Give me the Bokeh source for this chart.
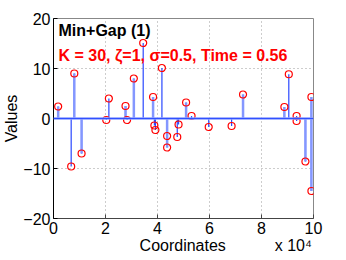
import math
from bokeh.plotting import figure
from bokeh.models import Label, Span, FixedTicker, Range1d
from bokeh.embed import file_html
from bokeh.resources import INLINE

# estimated signal (K = 30 spikes)
est_x = [1800, 6800, 8000, 10800, 20300, 21300, 27700, 28300, 30900, 34500,
         38300, 38800, 39200, 41700, 43700, 43700, 47600, 48100, 51000, 53100,
         59700, 68500, 72900, 88800, 90500, 93500, 93500, 96900, 99200, 99200]
est_y = [2.4, -9.6, 9.0, -7.0, -0.3, 4.0, 2.5, -0.3, 8.0, 15.1,
         4.3, -1.4, -2.3, 10.1, -3.5, -5.8, -3.7, -1.2, 3.2, 0.5,
         -1.7, -1.5, 4.8, 2.3, 8.85, 0.5, -0.5, -8.6, 4.3, -14.5]

# true signal (light stems)
true_x = [1800, 8000, 10800, 27700, 30900, 38300, 43700, 51000, 72900, 88800,
          96900, 99200, 99200]
true_y = [2.4, 9.0, -7.0, 2.5, 8.0, 4.3, -5.8, 3.2, 4.8, 2.3,
          -8.6, 4.3, -14.5]

x_ticks = [0, 20000, 40000, 60000, 80000, 100000]
x_tick_labels = ["0", "2", "4", "6", "8", "10"]
y_ticks = [-20, -10, 0, 10, 20]

FONT = "Liberation Sans"
NB = "\u00a0"

p = figure(width=346, height=260, output_backend="svg", toolbar_location=None,
           x_range=Range1d(0, 100000), y_range=Range1d(-20, 20),
           min_border_left=53, min_border_right=33, min_border_top=18,
           min_border_bottom=42)
p.background_fill_color = "white"
p.border_fill_color = "white"
p.outline_line_color = "#888888"
p.outline_line_width = 1

p.xaxis.ticker = FixedTicker(ticks=x_ticks)
p.xaxis.major_label_overrides = {t: l for t, l in zip(x_ticks, x_tick_labels)}
p.yaxis.ticker = FixedTicker(ticks=y_ticks)
p.yaxis.major_label_overrides = {t: ("\u2212" + str(-t) if t < 0 else str(t)) for t in y_ticks}
for ax in (p.xaxis[0], p.yaxis[0]):
    ax.major_label_text_font = FONT
    ax.major_label_text_font_size = "16px"
    ax.major_label_text_color = "black"
    ax.major_tick_in = 4
    ax.major_tick_out = 0
    ax.minor_tick_line_color = None
    ax.major_label_standoff = 3
    ax.axis_label_text_font = FONT
    ax.axis_label_text_font_size = "16px"
    ax.axis_label_text_font_style = "normal"
    ax.axis_label_text_color = "black"
# axis label carries the exponent note at its right end (x 10^4)
p.xaxis.axis_label = NB * 19 + "Coordinates" + NB * 11 + "x 10\u2074"
p.xaxis.axis_label_standoff = 0
p.yaxis.axis_label = "Values"
p.yaxis.axis_label_standoff = 0
p.xaxis.axis_line_color = "#444444"
p.xaxis.major_tick_line_color = "#444444"
p.yaxis.axis_line_color = "black"
p.yaxis.major_tick_line_color = "black"

p.grid.grid_line_color = "#9a9a9a"
p.grid.grid_line_dash = "1 3"
p.grid.grid_line_width = 1

# baseline
p.add_layout(Span(location=0, dimension="width", line_color="#8a9cff", line_width=2.5))
p.add_layout(Span(location=0, dimension="width", line_color="#3050ff", line_width=1))

# estimate stems
p.segment(x0=est_x, y0=[0] * len(est_x), x1=est_x, y1=est_y,
          line_color="#2a48ff", line_width=1.2)
# true stems
p.segment(x0=true_x, y0=[0] * len(true_x), x1=true_x, y1=true_y,
          line_color="#8497ff", line_width=2.5)
# markers
p.scatter(est_x, est_y, marker="circle", size=7, fill_color=None,
          line_color="#ff0000", line_width=1.2)

# texts inside the frame (screen units: frame-relative, bottom-left)
p.add_layout(Label(x=5, y=188, x_units="screen", y_units="screen",
                   text="Min+Gap (1)", text_font=FONT, text_font_style="bold",
                   text_font_size="16px", text_color="black",
                   text_baseline="alphabetic"))
p.add_layout(Label(x=5, y=163, x_units="screen", y_units="screen",
                   text="K = 30,  \u03b6=1, \u03c3=0.5, Time = 0.56", text_font=FONT,
                   text_font_style="bold", text_font_size="16px",
                   text_color="#ff0000", text_baseline="alphabetic"))

open("out.html", "w").write(file_html(p, INLINE))
